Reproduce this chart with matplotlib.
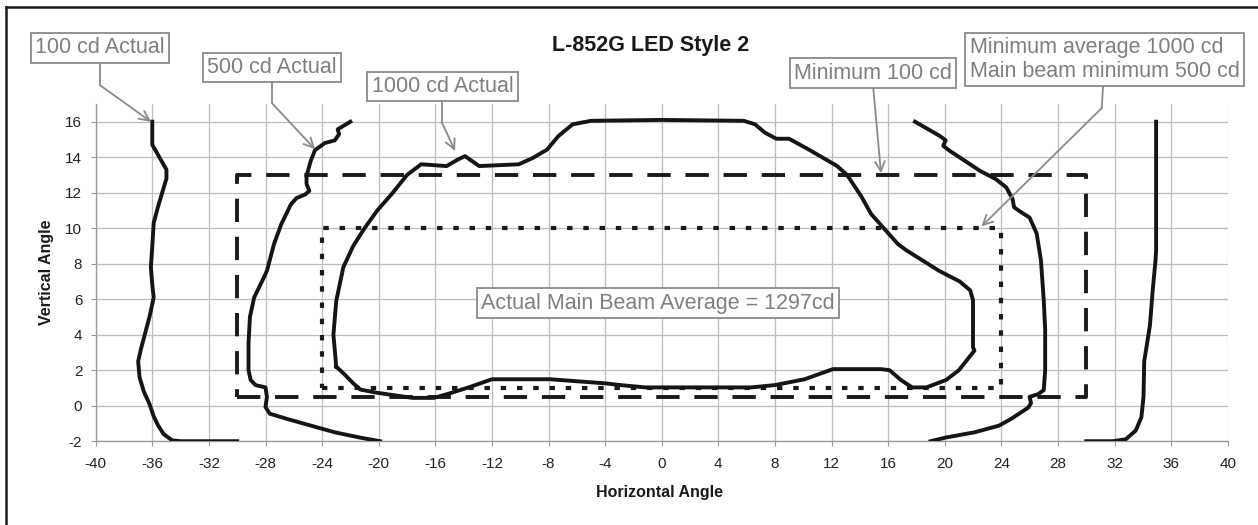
import matplotlib
matplotlib.use("Agg")
import matplotlib.pyplot as plt
from matplotlib.lines import Line2D

plt.rcParams['font.family'] = ['Liberation Sans', 'DejaVu Sans']
plt.rcParams['axes.unicode_minus'] = False

# === Isocandela curves (deg) ===
# 100 cd, left branch
c100_left_x = [-36.0, -36.0, -35.5, -35.0, -35.0, -35.3, -35.6, -35.9, -36.0, -36.1, -36.0, -35.9,
               -36.2, -36.5, -36.8, -37.0, -36.9, -36.6, -36.2, -35.9, -35.6, -35.2, -34.6, -34.0, -30.0]
c100_left_y = [16.0, 14.7, 14.0, 13.3, 12.8, 12.0, 11.2, 10.3, 9.0, 7.8, 6.8, 6.1,
               5.0, 4.1, 3.2, 2.5, 1.6, 0.8, 0.1, -0.6, -1.1, -1.6, -1.95, -2.0, -2.0]

# 100 cd, right branch
c100_right_x = [34.94, 34.94, 34.9, 34.7, 34.5, 34.1, 34.05, 33.9, 33.5, 32.8, 31.9, 30.0]
c100_right_y = [16.0, 8.75, 8.2, 6.5, 4.5, 2.5, 0.5, -0.65, -1.4, -1.89, -2.0, -2.0]

# 500 cd, left branch
c500_left_x = [-22.0, -22.9, -22.8, -23.1, -23.8, -24.5, -24.8, -25.1, -25.1, -24.9, -25.2, -25.8,
               -26.2, -26.9, -27.4, -27.9, -28.1, -28.8, -29.1, -29.2, -29.2, -29.05, -28.7, -28.0,
               -27.9, -28.0, -27.7, -26.5, -24.8, -23.1, -21.3, -19.9]
c500_left_y = [16.0, 15.57, 15.3, 14.95, 14.8, 14.4, 13.8, 12.95, 12.5, 12.1, 11.9, 11.7,
               11.35, 10.2, 9.1, 7.6, 7.25, 6.1, 5.0, 3.5, 2.0, 1.45, 1.16, 1.03,
               0.5, -0.08, -0.45, -0.74, -1.12, -1.5, -1.8, -2.0]

# 500 cd, right branch
c500_right_x = [17.9, 19.65, 20.07, 19.9, 20.35, 22.5, 23.6, 24.35, 24.8, 24.9, 25.4, 26.0, 26.5,
                26.8, 27.0, 27.1, 27.1, 27.0, 26.6, 26.0, 26.1, 25.9, 24.7, 23.85, 22.1, 20.1, 19.0]
c500_right_y = [16.0, 15.2, 14.95, 14.64, 14.36, 13.23, 12.77, 12.3, 11.64, 11.18, 10.9, 10.6, 9.7,
                8.2, 5.94, 4.3, 2.0, 0.88, 0.65, 0.5, 0.15, -0.11, -0.74, -1.12, -1.5, -1.79, -2.0]

# 1000 cd, closed contour
c1000_x = [-23.0, -23.2, -23.0, -22.5, -21.8, -21.0, -20.1, -19.0, -18.0, -17.0, -15.2, -14.4, -13.9,
           -12.9, -10.1, -9.1, -8.1, -7.3, -6.3, -5.0, 0.0, 5.8, 6.6, 7.3, 8.1, 9.0, 10.4, 12.4, 13.1,
           14.1, 14.8, 16.7, 17.3, 19.6, 21.06, 21.8, 22.0, 22.0, 22.1, 21.0, 20.1, 18.7, 17.7, 16.9,
           16.1, 15.5, 12.1, 10.1, 8.0, 6.3, -1.15, -2.9, -4.0, -7.9, -12.0, -13.5, -15.0, -16.1,
           -17.6, -19.0, -20.2, -21.3, -21.8, -22.5, -23.0]
c1000_y = [2.2, 4.0, 5.9, 7.8, 9.0, 10.0, 11.0, 12.0, 13.0, 13.6, 13.5, 13.87, 14.06,
           13.5, 13.6, 13.96, 14.43, 15.19, 15.85, 16.05, 16.1, 16.05, 15.85, 15.38, 15.04, 15.04, 14.43, 13.5, 13.0,
           11.8, 10.8, 9.1, 8.75, 7.6, 7.0, 6.5, 5.95, 3.3, 3.1, 2.0, 1.45, 1.03, 1.03, 1.45,
           2.0, 2.06, 2.06, 1.49, 1.16, 1.03, 1.03, 1.16, 1.26, 1.49, 1.49, 1.07, 0.69, 0.44,
           0.44, 0.6, 0.74, 0.91, 1.26, 1.83, 2.2]

# === Requirement boxes ===
min100_x = [-30, 30, 30, -30, -30]
min100_y = [0.5, 0.5, 13, 13, 0.5]
main_beam_x = [-24, 24, 24, -24, -24]
main_beam_y = [1, 1, 10, 10, 1]

x_ticks = list(range(-40, 41, 4))
y_ticks = list(range(-2, 17, 2))

W, H = 1258, 525
fig = plt.figure(figsize=(W / 100, H / 100), dpi=100)
ax = fig.add_axes([95.7 / W, 1 - 441.2 / H, (1227.7 - 95.7) / W, (441.2 - 103.95) / H])

ax.set_xlim(-40, 40)
ax.set_ylim(-2, 17)
ax.set_xticks(x_ticks)
ax.set_yticks(y_ticks)
ax.grid(True, color='#bdbdbd', lw=0.9)
ax.set_axisbelow(True)
for s in ['top', 'right']:
    ax.spines[s].set_visible(False)
for s in ['left', 'bottom']:
    ax.spines[s].set_color('#9a9a9a')
    ax.spines[s].set_linewidth(1.0)
ax.tick_params(direction='out', length=3.6, color='#9a9a9a', labelsize=11, labelcolor='#222222')
ax.tick_params(axis='x', pad=8)
ax.tick_params(axis='y', pad=6)

# requirement rectangles
ax.plot(min100_x, min100_y, color='#1a1a1a', lw=2.8, linestyle=(0, (6, 3.8)), solid_capstyle='butt', zorder=3)
ax.plot(main_beam_x, main_beam_y, color='#1a1a1a', lw=3.0, linestyle=(0, (1.3, 2.6)), zorder=3)

# measured curves
for cx, cy in [(c100_left_x, c100_left_y), (c100_right_x, c100_right_y),
               (c500_left_x, c500_left_y), (c500_right_x, c500_right_y),
               (c1000_x, c1000_y)]:
    ax.plot(cx, cy, color='#151515', lw=2.8, solid_joinstyle='round', zorder=4)

# === callouts ===
gray = '#8a8a8a'
box = dict(boxstyle='square,pad=0.2', fc='white', ec=gray, lw=1.3)

def callout(text, bx, by, path, tip):
    ax.text(bx, by, text, ha='center', va='center', fontsize=15.5, color='#7f7f7f',
            bbox=box, clip_on=False, zorder=8, multialignment='left')
    px = [bx] + [p[0] for p in path]
    py = [by] + [p[1] for p in path]
    ax.plot(px, py, color=gray, lw=1.3, clip_on=False, zorder=7)
    ax.annotate('', xy=tip, xytext=path[-1], annotation_clip=False, zorder=7,
                arrowprops=dict(arrowstyle='->,head_length=0.7,head_width=0.35', color=gray, lw=1.3,
                                shrinkA=0, shrinkB=0))

callout('100 cd Actual', -39.7, 20.16, [(-39.7, 18.06)], (-36.1, 16.0))
callout('500 cd Actual', -27.55, 19.05, [(-27.55, 17.05)], (-24.5, 14.45))
callout('1000 cd Actual', -15.5, 17.98, [(-15.5, 15.9)], (-14.6, 14.35))
callout('Minimum 100 cd', 14.93, 18.74, [(14.95, 17.9)], (15.5, 13.1))
callout('Minimum average 1000 cd\nMain beam minimum 500 cd', 31.3, 19.5, [(31.1, 16.77)], (22.6, 10.1))

ax.text(-0.26, 5.78, 'Actual Main Beam Average = 1297cd', ha='center', va='center',
        fontsize=15.5, color='#7f7f7f', bbox=box, zorder=8)

fig.text(651 / W, 1 - 45 / H, 'L-852G LED Style 2', ha='center', va='center',
         fontsize=15.5, fontweight='bold', color='#1a1a1a')
fig.text(47 / W, 1 - 272.5 / H, 'Vertical Angle', rotation=90, ha='center', va='center',
         fontsize=11.5, fontweight='bold', color='#1a1a1a')
fig.text(660 / W, 1 - 493 / H, 'Horizontal Angle', ha='center', va='center',
         fontsize=11.5, fontweight='bold', color='#1a1a1a')

# outer frame (top and left edges only, as in the source)
fig.add_artist(Line2D([6 / W, 6 / W], [0, 1 - 7 / H], color='#1a1a1a', lw=1.8))
fig.add_artist(Line2D([6 / W, 1], [1 - 7 / H, 1 - 7 / H], color='#1a1a1a', lw=1.8))

fig.savefig('out.png', dpi=100)
